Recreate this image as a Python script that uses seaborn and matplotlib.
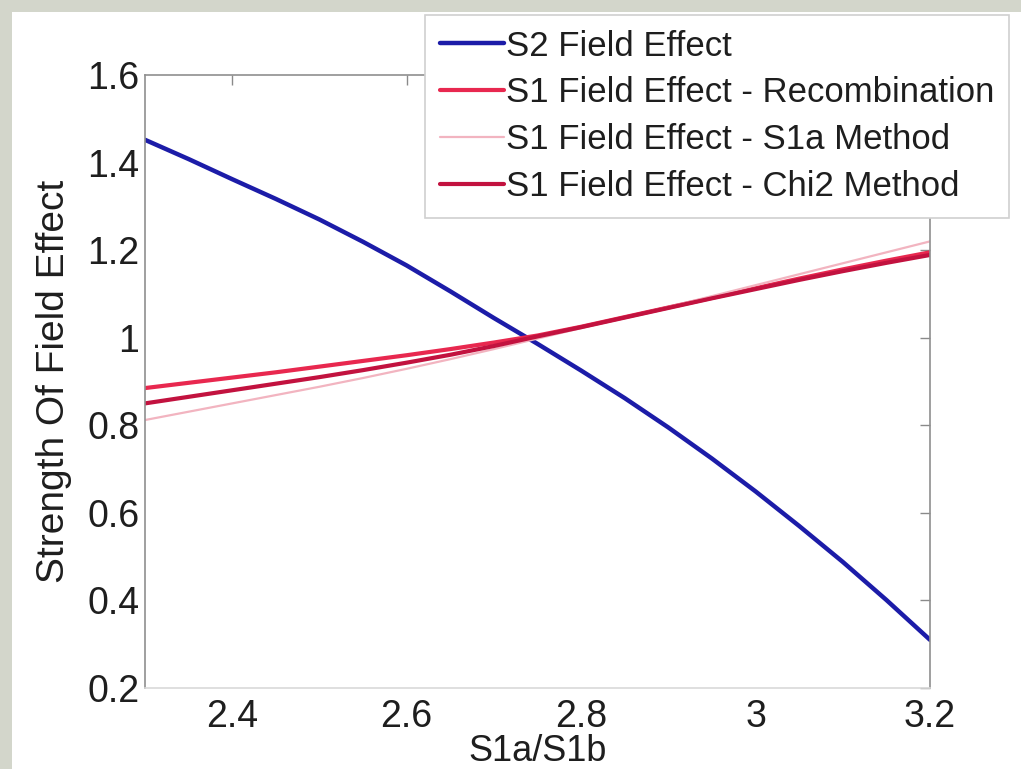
import matplotlib
matplotlib.use("Agg")
import matplotlib.pyplot as plt
from matplotlib.patches import Rectangle
from matplotlib.ticker import FuncFormatter
import numpy as np
import pandas as pd
import seaborn as sns

# Ratio S1a/S1b on the x axis
ratio = [2.30, 2.35, 2.40, 2.45, 2.50, 2.55, 2.60, 2.65, 2.70, 2.75,
         2.80, 2.85, 2.90, 2.95, 3.00, 3.05, 3.10, 3.15, 3.20]

# Field-effect strengths per method
s2_field = [1.452, 1.408, 1.362, 1.317, 1.270, 1.219, 1.165, 1.106, 1.045, 0.986,
            0.925, 0.862, 0.795, 0.724, 0.649, 0.570, 0.488, 0.401, 0.310]
s1_recomb = [0.885, 0.897, 0.909, 0.921, 0.934, 0.947, 0.960, 0.974, 0.989, 1.005,
             1.025, 1.047, 1.069, 1.091, 1.113, 1.135, 1.156, 1.176, 1.195]
s1_s1a = [0.812, 0.831, 0.850, 0.869, 0.888, 0.908, 0.929, 0.951, 0.974, 0.998,
          1.022, 1.046, 1.070, 1.095, 1.120, 1.145, 1.170, 1.195, 1.220]
s1_chi2 = [0.850, 0.865, 0.880, 0.895, 0.910, 0.926, 0.943, 0.961, 0.981, 1.003,
           1.024, 1.046, 1.068, 1.090, 1.111, 1.132, 1.152, 1.171, 1.189]

series_names = [
    "S2 Field Effect",
    "S1 Field Effect - Recombination",
    "S1 Field Effect - S1a Method",
    "S1 Field Effect - Chi2 Method",
]
series_values = [s2_field, s1_recomb, s1_s1a, s1_chi2]
series_colors = ["#1c1ca8", "#e8284f", "#f2b4c0", "#c2123f"]
series_widths = [3.2, 3.0, 1.6, 3.0]

x_ticks = [2.4, 2.6, 2.8, 3.0, 3.2]
y_ticks = [0.2, 0.4, 0.6, 0.8, 1.0, 1.2, 1.4, 1.6]

df = pd.DataFrame({
    "ratio": np.tile(ratio, len(series_names)),
    "value": np.concatenate(series_values),
    "series": np.repeat(series_names, len(ratio)),
})

sns.set_theme(style="white")
plt.rcParams["font.family"] = ["Liberation Sans", "DejaVu Sans"]

W, H = 1021, 769
fig = plt.figure(figsize=(W / 100, H / 100), dpi=100, facecolor="#d3d6cb")
# white slide panel behind the chart
fig.patches.append(Rectangle((12 / W, 0), 1 - 12 / W, 1 - 12 / H,
                             transform=fig.transFigure, facecolor="white",
                             edgecolor="none", zorder=-10))

ax = fig.add_axes([145 / W, 1 - 688 / H, (930 - 145) / W, (688 - 75) / H])
ax.set_zorder(1)
ax.set_facecolor("white")

for name, color, lw in zip(series_names, series_colors, series_widths):
    sns.lineplot(data=df[df["series"] == name], x="ratio", y="value",
                 color=color, linewidth=lw, label=name, ax=ax,
                 estimator=None, sort=True)

ax.set_xlim(2.3, 3.2)
ax.set_ylim(0.2, 1.6)
ax.set_xticks(x_ticks)
ax.set_yticks(y_ticks)
fmt = FuncFormatter(lambda v, p: f"{v:g}")
ax.xaxis.set_major_formatter(fmt)
ax.yaxis.set_major_formatter(fmt)
ax.tick_params(axis="both", direction="in", length=7, width=1,
               color="#8a8a8a", labelsize=27, labelcolor="#1e1e1e",
               top=True, right=True)
ax.tick_params(axis="y", pad=4)
ax.tick_params(axis="x", pad=8)

for side in ["left", "right", "top"]:
    ax.spines[side].set_color("#8f8f8f")
    ax.spines[side].set_linewidth(1.2)
ax.spines["bottom"].set_color("#d9d9d9")
ax.spines["bottom"].set_linewidth(1.2)

ax.set_xlabel("S1a/S1b", fontsize=26, color="#1e1e1e", labelpad=-1)
ax.set_ylabel("Strength Of Field Effect", fontsize=28, color="#1e1e1e", labelpad=11)

handles, labels = ax.get_legend_handles_labels()
leg = ax.legend(handles, labels, loc="upper left",
                bbox_to_anchor=(425 / W, 1 - 15 / H), bbox_transform=fig.transFigure,
                fontsize=25, frameon=True, fancybox=False, framealpha=1,
                edgecolor="#d0d0d0", facecolor="white", borderpad=0.42,
                labelspacing=0.4, handlelength=1.85, handletextpad=0.05,
                borderaxespad=0)
leg.get_frame().set_linewidth(1.2)
for t in leg.get_texts():
    t.set_color("#1e1e1e")

fig.savefig("out.png", dpi=100, facecolor=fig.get_facecolor())
